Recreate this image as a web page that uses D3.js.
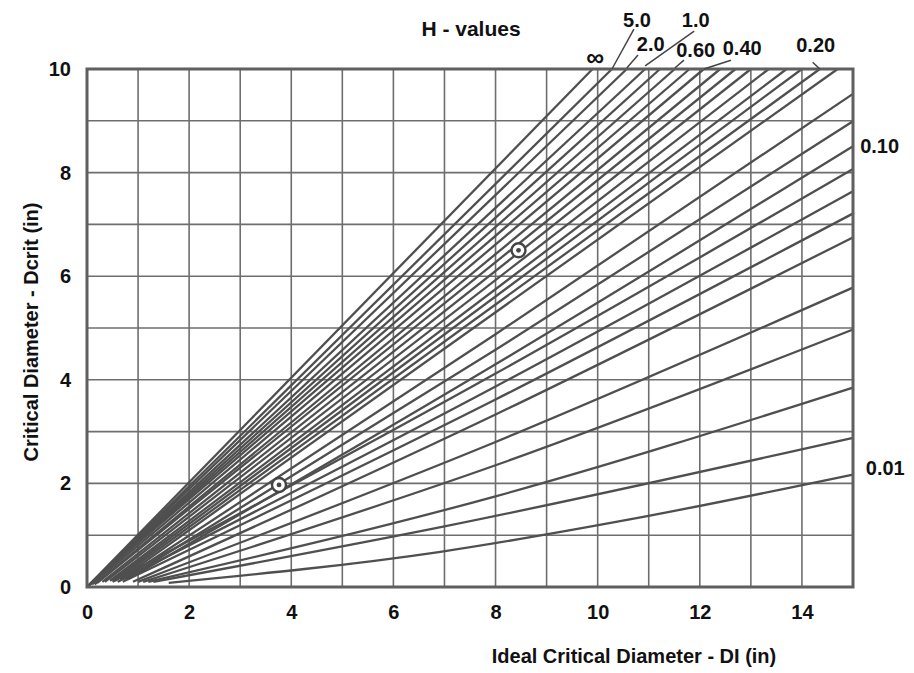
<!DOCTYPE html>
<html>
<head>
<meta charset="utf-8">
<script src="https://cdn.jsdelivr.net/npm/d3@7/dist/d3.min.js"></script>
<style>
body { margin: 0; background: #fff; }
text { font-family: "Liberation Sans", Arial, sans-serif; font-weight: bold; fill: #111; }
</style>
</head>
<body>
<div id="chart-area"></div>
<script>
// axis ticks
const xTicks = [0, 2, 4, 6, 8, 10, 12, 14];
const yTicks = [0, 2, 4, 6, 8, 10];

// H-value curves, each one a list of [DI, Dcrit] points
const curves = [
    [[0, 0], [9.9, 10]],
    [[0, 0], [10.28, 10]],
    [[0, 0], [10.57, 10]],
    [[0, 0], [10.93, 10]],
    [[0, 0], [11.22, 10]],
    [[0, 0], [11.51, 10]],
    [[0, 0], [11.8, 10]],
    [[0.1, 0.05], [12.08, 10]],
    [[0.15, 0.05], [12.4, 10]],
    [[0.2, 0.08], [12.7, 10]],
    [[0.3, 0.1], [13.0, 10]],
    [[0.35, 0.1], [13.35, 10]],
    [[0.45, 0.12], [13.7, 10]],
    [[0.5, 0.12], [14.0, 10]],
    [[0.55, 0.12], [14.35, 10]],
    [[0.65, 0.15], [14.7, 10]],
    [[0.7, 0.15], [8, 4.88], [15, 9.52]],
    [[0.75, 0.15], [8, 4.58], [15, 8.99]],
    [[0.8, 0.15], [8, 4.3], [15, 8.51]],
    [[0.5, 0.1], [8, 4.12], [15, 8.07]],
    [[0.6, 0.1], [8, 3.87], [15, 7.64]],
    [[0.7, 0.1], [8, 3.62], [15, 7.21]],
    [[0.9, 0.1], [8, 3.33], [15, 6.75]],
    [[1.0, 0.1], [8, 2.8], [15, 5.78]],
    [[1.1, 0.1], [8, 2.35], [15, 4.97]],
    [[1.2, 0.1], [8, 1.75], [15, 3.85]],
    [[1.3, 0.1], [7, 1.17], [15, 2.88]],
    [[1.6, 0.08], [6.92, 0.68], [10.6, 1.3], [15, 2.17]]
];

// circled points
const markX = [8.45, 3.76];
const markY = [6.5, 1.97];

// H labels and where their text sits (data units)
const hLabels = ["\u221E", "5.0", "2.0", "1.0", "0.60", "0.40", "0.20", "0.10", "0.01"];
const hLabelX = [9.95, 10.77, 11.04, 11.92, 11.92, 12.83, 14.27, 15.14, 15.25];
const hLabelY = [10.05, 10.81, 10.35, 10.81, 10.23, 10.27, 10.33, 8.38, 2.16];

// leader lines from label to curve end
const leaders = [
    [[10.71, 10.77], [10.28, 10.0]],
    [[10.79, 10.27], [10.57, 10.02]],
    [[11.89, 10.73], [10.93, 10.06]],
    [[11.69, 10.17], [11.51, 10.02]],
    [[12.61, 10.17], [12.08, 10.0]],
    [[14.21, 10.13], [14.35, 10.0]]
];

const chartSize = { width: 914, height: 673 };
const plot = { left: 87, right: 853, top: 69, bottom: 587 };

const svg = d3.select("#chart-area")
    .append("svg")
    .attr("width", chartSize.width)
    .attr("height", chartSize.height);

const x = d3.scaleLinear().domain([0, 15]).range([plot.left, plot.right]);
const y = d3.scaleLinear().domain([0, 10]).range([plot.bottom, plot.top]);

// grid, one line per inch both ways
const grid = svg.append("g").attr("class", "grid");
grid.selectAll(".vgrid")
    .data(d3.range(1, 15))
    .join("line")
    .attr("x1", d => x(d)).attr("x2", d => x(d))
    .attr("y1", y(0)).attr("y2", y(10))
    .attr("stroke", "#6e6e6e").attr("stroke-width", 1.6);
grid.selectAll(".hgrid")
    .data(d3.range(1, 10))
    .join("line")
    .attr("x1", x(0)).attr("x2", x(15))
    .attr("y1", d => y(d)).attr("y2", d => y(d))
    .attr("stroke", "#6e6e6e").attr("stroke-width", 1.6);

// curves
const line = d3.line()
    .x(p => x(p[0]))
    .y(p => y(p[1]))
    .curve(d3.curveMonotoneX);

svg.append("g").attr("class", "curves")
    .selectAll("path")
    .data(curves)
    .join("path")
    .attr("d", line)
    .attr("fill", "none")
    .attr("stroke", "#4f4f4f")
    .attr("stroke-width", 2.3);

// frame
svg.append("rect")
    .attr("x", x(0)).attr("y", y(10))
    .attr("width", x(15) - x(0)).attr("height", y(0) - y(10))
    .attr("fill", "none")
    .attr("stroke", "#5f5f5f")
    .attr("stroke-width", 3);

// circled points
const marks = svg.append("g").attr("class", "marks");
marks.selectAll(".ring")
    .data(markX)
    .join("circle")
    .attr("cx", d => x(d))
    .attr("cy", (d, i) => y(markY[i]))
    .attr("r", 7)
    .attr("fill", "#fff")
    .attr("stroke", "#444")
    .attr("stroke-width", 2.4);
marks.selectAll(".dot")
    .data(markX)
    .join("circle")
    .attr("cx", d => x(d))
    .attr("cy", (d, i) => y(markY[i]))
    .attr("r", 2.4)
    .attr("fill", "#444");

// axes
const xAxis = d3.axisBottom(x).tickValues(xTicks).tickSize(0).tickPadding(18);
const yAxis = d3.axisLeft(y).tickValues(yTicks).tickSize(0).tickPadding(16);

const gx = svg.append("g").attr("transform", `translate(0, ${plot.bottom})`).call(xAxis);
const gy = svg.append("g").attr("transform", `translate(${plot.left}, 0)`).call(yAxis);
[gx, gy].forEach(g => {
    g.select(".domain").remove();
    g.selectAll("text")
        .attr("font-family", "Liberation Sans, Arial, sans-serif")
        .attr("font-weight", "bold")
        .attr("font-size", 20)
        .attr("fill", "#111");
});

// axis titles
svg.append("text")
    .attr("x", 634)
    .attr("y", 663)
    .attr("text-anchor", "middle")
    .attr("font-size", 20)
    .text("Ideal Critical Diameter - DI (in)");

svg.append("text")
    .attr("transform", "rotate(-90)")
    .attr("x", -332)
    .attr("y", 38)
    .attr("text-anchor", "middle")
    .attr("font-size", 20)
    .text("Critical Diameter - Dcrit (in)");

svg.append("text")
    .attr("x", 471)
    .attr("y", 36)
    .attr("text-anchor", "middle")
    .attr("font-size", 21)
    .text("H - values");

// leaders
svg.append("g").attr("class", "leaders")
    .selectAll("line")
    .data(leaders)
    .join("line")
    .attr("x1", d => x(d[0][0])).attr("y1", d => y(d[0][1]))
    .attr("x2", d => x(d[1][0])).attr("y2", d => y(d[1][1]))
    .attr("stroke", "#444")
    .attr("stroke-width", 1.5);

// H labels
svg.append("g").attr("class", "hlabels")
    .selectAll("text")
    .data(hLabels)
    .join("text")
    .attr("x", (d, i) => x(hLabelX[i]))
    .attr("y", (d, i) => y(hLabelY[i]))
    .attr("text-anchor", (d, i) => i >= 7 ? "start" : "middle")
    .attr("font-size", (d, i) => i === 0 ? 25 : 20)
    .text(d => d);
</script>
</body>
</html>
